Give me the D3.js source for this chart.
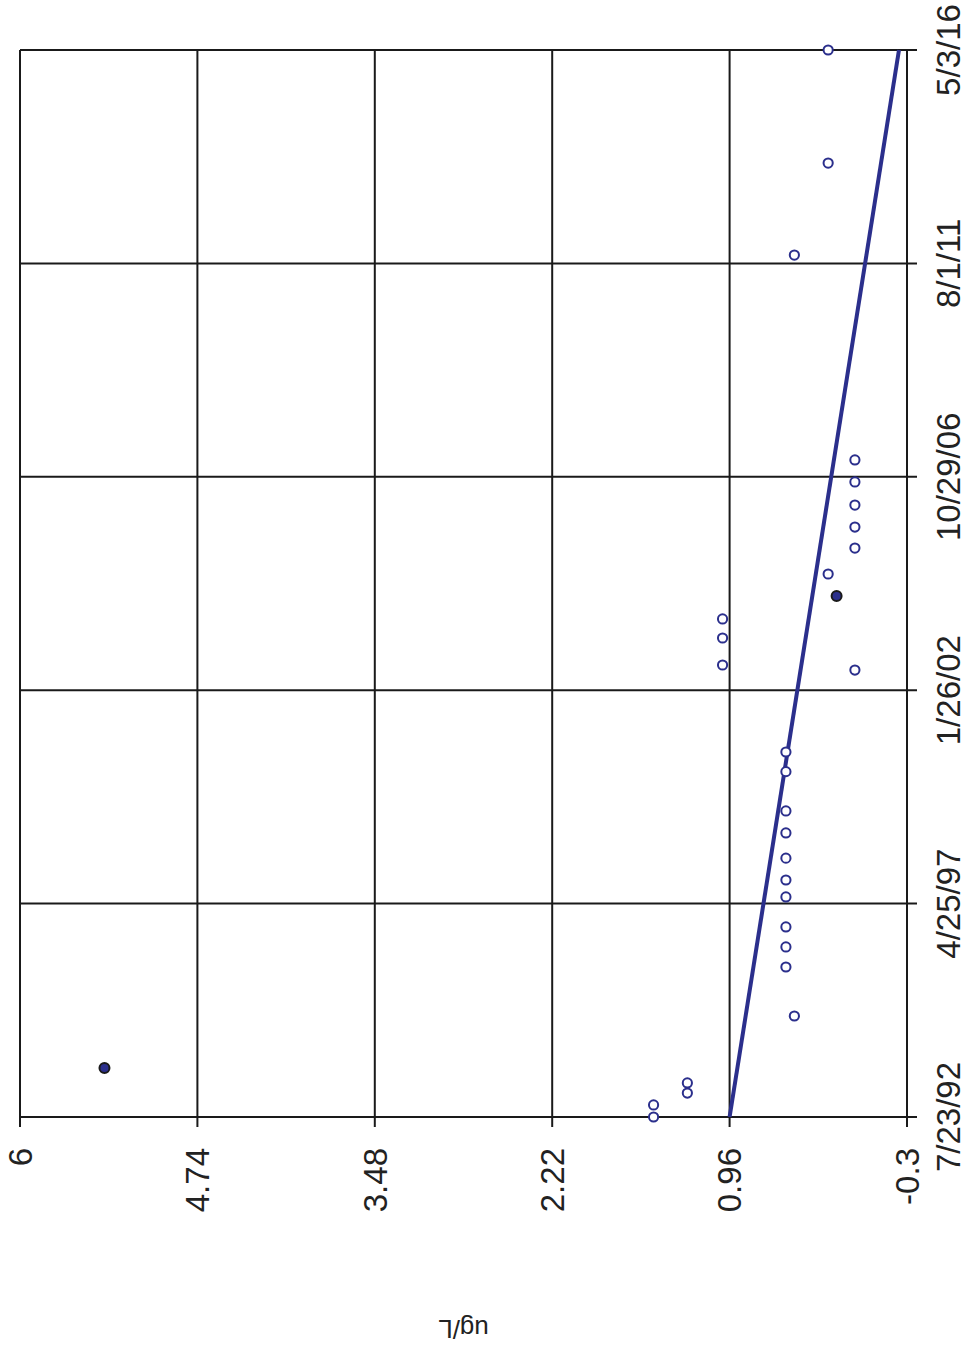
<!DOCTYPE html>
<html>
<head>
<meta charset="utf-8">
<script src="https://cdn.jsdelivr.net/npm/d3@7"></script>
<style>
  html, body { margin: 0; padding: 0; background: #fff; }
  svg { display: block; font-family: "Liberation Sans", Arial, sans-serif; }
</style>
</head>
<body>
<div id="chart"></div>
<script>
// chart is drawn turned a quarter turn: values run left->right (6 to -0.3), dates bottom->top
const dateTicks = ["1992-07-23", "1997-04-25", "2002-01-26", "2006-10-29", "2011-08-01", "2016-05-03"];
const valueTicks = [6, 4.74, 3.48, 2.22, 0.96, -0.3];

const sampleDates = [
  "1992-07-23", "1992-10-29", "1993-02-03", "1993-04-26", "1994-10-23",
  "1995-11-26", "1996-05-07", "1996-10-17", "1997-06-18", "1997-11-03",
  "1998-04-30", "1998-11-21", "1999-05-19", "2000-04-03", "2000-09-10",
  "2002-07-09", "2002-08-19", "2003-03-27", "2003-08-29", "2004-08-29",
  "2005-03-28", "2005-09-15", "2006-03-13", "2006-09-17", "2007-03-15",
  "2011-10-08", "2013-10-26", "2016-05-03"
];
const sampleValues = [
  1.50, 1.50, 1.26, 1.26, 0.50,
  0.56, 0.56, 0.56, 0.56, 0.56,
  0.56, 0.56, 0.56, 0.56, 0.56,
  0.07, 1.01, 1.01, 1.01, 0.26,
  0.07, 0.07, 0.07, 0.07, 0.07,
  0.50, 0.26, 0.26
];

// filled markers
const outlierDates = ["1993-08-26", "2004-03-03"];
const outlierValues = [5.40, 0.20];

// trend line end points
const trendDates = ["1992-07-23", "2016-05-03"];
const trendValues = [0.96, -0.243];

const W = 967, H = 1348;
const navy = "#2b2f8c";
const parse = d3.utcParse("%Y-%m-%d");
const fmt = d3.utcFormat("%-m/%-d/%y");

const svg = d3.select("#chart").append("svg")
  .attr("width", W)
  .attr("height", H);

const x = d3.scaleLinear().domain([6, -0.3]).range([20, 907]);
const y = d3.scaleUtc().domain([parse(dateTicks[0]), parse(dateTicks[dateTicks.length - 1])]).range([1117, 50]);

const grid = svg.append("g")
  .attr("stroke", "#1a1a1a")
  .attr("stroke-width", 2);

// vertical grid lines (value ticks), sticking out below the axis
grid.selectAll("line.v")
  .data(valueTicks)
  .enter().append("line")
  .attr("class", "v")
  .attr("x1", d => x(d)).attr("x2", d => x(d))
  .attr("y1", y.range()[1]).attr("y2", y.range()[0] + 10);

// horizontal grid lines (date ticks), sticking out past the right side
grid.selectAll("line.h")
  .data(dateTicks)
  .enter().append("line")
  .attr("class", "h")
  .attr("x1", x.range()[0]).attr("x2", x.range()[1] + 10)
  .attr("y1", d => y(parse(d))).attr("y2", d => y(parse(d)));

// value tick labels, reading bottom to top
svg.append("g").selectAll("text")
  .data(valueTicks)
  .enter().append("text")
  .attr("transform", d => `translate(${x(d)},${y.range()[0] + 31}) rotate(-90)`)
  .attr("text-anchor", "end")
  .attr("dy", "0.36em")
  .attr("font-size", 33)
  .attr("fill", "#222")
  .text(d => d);

// date tick labels
svg.append("g").selectAll("text")
  .data(dateTicks)
  .enter().append("text")
  .attr("transform", d => `translate(${x.range()[1] + 41},${y(parse(d))}) rotate(-90)`)
  .attr("text-anchor", "middle")
  .attr("dy", "0.36em")
  .attr("font-size", 33)
  .attr("fill", "#222")
  .text(d => fmt(parse(d)));

// axis title, upside down
svg.append("text")
  .attr("transform", `translate(${(x.range()[0] + x.range()[1]) / 2},1329) rotate(180)`)
  .attr("text-anchor", "middle")
  .attr("dy", "0.36em")
  .attr("font-size", 26)
  .attr("fill", "#222")
  .text("ug/L");

// trend line
svg.append("line")
  .attr("x1", x(trendValues[0])).attr("y1", y(parse(trendDates[0])))
  .attr("x2", x(trendValues[1])).attr("y2", y(parse(trendDates[1])))
  .attr("stroke", navy)
  .attr("stroke-width", 4);

// open sample markers
svg.append("g").selectAll("circle")
  .data(sampleDates.map((d, i) => ({ date: parse(d), value: sampleValues[i] })))
  .enter().append("circle")
  .attr("cx", d => x(d.value))
  .attr("cy", d => y(d.date))
  .attr("r", 4.6)
  .attr("fill", "#fff")
  .attr("stroke", navy)
  .attr("stroke-width", 2);

// filled markers
svg.append("g").selectAll("circle")
  .data(outlierDates.map((d, i) => ({ date: parse(d), value: outlierValues[i] })))
  .enter().append("circle")
  .attr("cx", d => x(d.value))
  .attr("cy", d => y(d.date))
  .attr("r", 5)
  .attr("fill", navy)
  .attr("stroke", "#1a1a1a")
  .attr("stroke-width", 2);
</script>
</body>
</html>
